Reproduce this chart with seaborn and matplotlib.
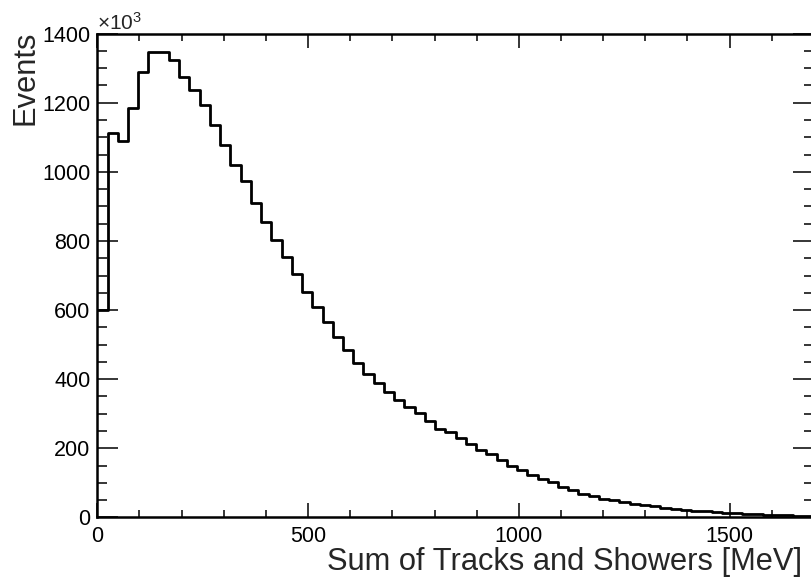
import numpy as np
import pandas as pd
import seaborn as sns
import matplotlib.pyplot as plt
from matplotlib.ticker import MultipleLocator

# Bin contents in units of 10^3 events, 70 bins from 0 to 1700 MeV
events_k = [600, 1111, 1090, 1184, 1289, 1346, 1346, 1325, 1275, 1237,
            1194, 1136, 1078, 1019, 973, 911, 854, 802, 754, 703,
            653, 609, 564, 522, 485, 446, 416, 390, 363, 340,
            320, 301, 280, 257, 246, 231, 212, 195, 183, 166,
            148, 136, 124, 110, 103, 88, 78, 69, 63, 54,
            49, 44, 40, 37, 32, 28, 25, 22, 19, 17,
            15, 14, 12, 10, 9, 8, 7, 6, 5, 5]
x_min, x_max, n_bins = 0, 1700, 70
x_ticks = [0, 500, 1000, 1500]
y_ticks = [0, 200, 400, 600, 800, 1000, 1200, 1400]

edges = np.linspace(x_min, x_max, n_bins + 1)
hist = pd.DataFrame({"energy": 0.5 * (edges[:-1] + edges[1:]),
                     "events": events_k})

sns.set_style("ticks")
plt.rcParams['font.family'] = ['Liberation Sans', 'DejaVu Sans']
plt.rcParams['mathtext.fontset'] = 'custom'
plt.rcParams['mathtext.rm'] = 'Liberation Sans'
plt.rcParams['mathtext.it'] = 'Liberation Sans'

fig = plt.figure(figsize=(8.12, 5.80), dpi=100)
ax = fig.add_axes([0.1198, 0.108, 0.8826, 0.834])

sns.histplot(data=hist, x="energy", weights="events", bins=n_bins,
             binrange=(x_min, x_max), element="step", fill=False,
             color="black", linewidth=2.0, ax=ax)

ax.set_xlim(x_min, x_max)
ax.set_ylim(0, 1400)
ax.set_xticks(x_ticks)
ax.set_yticks(y_ticks)
ax.xaxis.set_minor_locator(MultipleLocator(100))
ax.yaxis.set_minor_locator(MultipleLocator(50))

for side in ax.spines.values():
    side.set_linewidth(1.8)
    side.set_color("black")

ax.tick_params(which="both", direction="in", top=True, right=True,
               width=1.1, colors="black", labelsize=15.5)
ax.tick_params(axis="x", which="major", length=10, pad=6)
ax.tick_params(axis="x", which="minor", length=5)
ax.tick_params(axis="y", which="major", length=15, pad=5)
ax.tick_params(axis="y", which="minor", length=7.5)

ax.set_xlabel("Sum of Tracks and Showers [MeV]", fontsize=22.2)
ax.xaxis.set_label_coords(0.983, -0.062)
ax.xaxis.label.set_horizontalalignment("right")
ax.set_ylabel("")
fig.text(26 / 812, 1 - 31 / 580, "Events", rotation=90, fontsize=22.2,
         ha="center", va="top")

ax.text(0.0, 1.0, r"$\times$10$^{3}$", transform=ax.transAxes,
        fontsize=15, ha="left", va="bottom")

fig.savefig("out.png", dpi=100)
plt.close()
